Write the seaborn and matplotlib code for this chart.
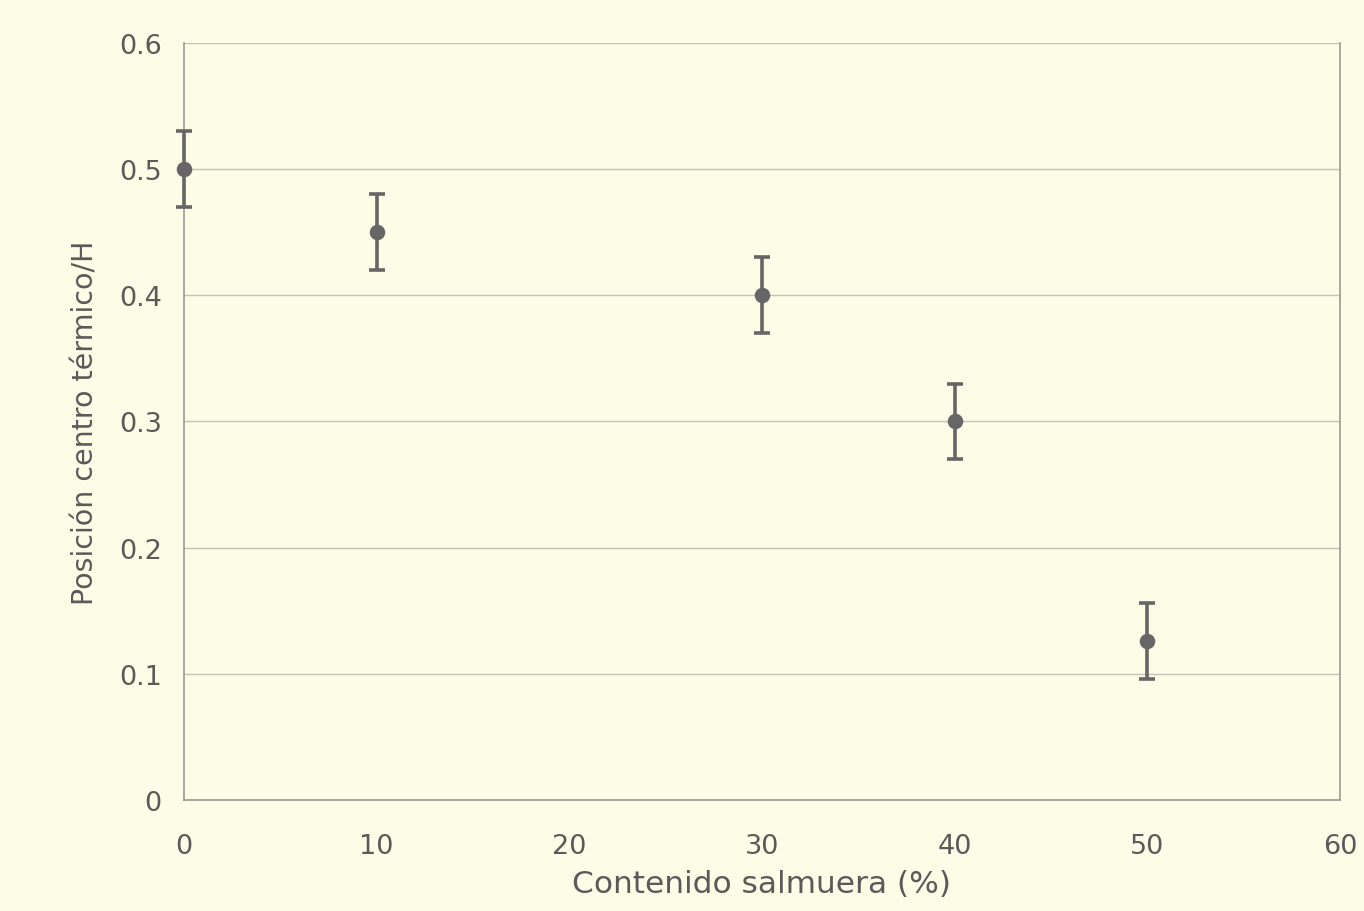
import matplotlib
matplotlib.use("Agg")
import matplotlib.pyplot as plt
import seaborn as sns
import pandas as pd

# Brine content (%) vs relative position of the thermal centre
brine_pct = [0, 10, 30, 40, 50]
thermal_center = [0.50, 0.45, 0.40, 0.30, 0.126]
error = [0.03, 0.03, 0.03, 0.03, 0.03]

x_ticks = [0, 10, 20, 30, 40, 50, 60]
y_ticks = [0, 0.1, 0.2, 0.3, 0.4, 0.5, 0.6]
y_tick_labels = ["0", "0.1", "0.2", "0.3", "0.4", "0.5", "0.6"]

df = pd.DataFrame({"brine": brine_pct, "pos": thermal_center, "err": error})

sns.set_style("white")
plt.rcParams["font.family"] = ["DejaVu Sans"]

bg = "#fdfce6"
ink = "#5a5a5a"
mark = "#666666"
frame = "#9a9a92"

fig = plt.figure(figsize=(13.64, 9.12), dpi=100, facecolor=bg)
ax = fig.add_axes([0.1349, 0.1217, 0.8475, 0.8301])
ax.set_facecolor(bg)

eb = ax.errorbar(df["brine"], df["pos"], yerr=df["err"], fmt="none",
                 ecolor=mark, elinewidth=2.6, capsize=6, capthick=2.6, zorder=3)
for artist in eb.lines[1] + eb.lines[2]:
    artist.set_clip_on(False)
sns.scatterplot(data=df, x="brine", y="pos", ax=ax, color=mark, s=125,
                edgecolor=mark, linewidth=0, zorder=4, legend=False, clip_on=False)

ax.set_xlim(0, 60)
ax.set_ylim(0, 0.6)
ax.set_xticks(x_ticks)
ax.set_yticks(y_ticks)
ax.set_yticklabels(y_tick_labels)
ax.grid(axis="y", color="#c2c2b6", linewidth=1.0)
ax.grid(axis="x", visible=False)

for side in ["left", "bottom", "right"]:
    ax.spines[side].set_visible(True)
    ax.spines[side].set_color(frame)
    ax.spines[side].set_linewidth(1.2)
ax.spines["top"].set_visible(False)

ax.tick_params(axis="both", direction="out", length=6, width=1.1,
               color=frame, labelsize=19.5, labelcolor=ink)
ax.tick_params(axis="x", pad=18)
ax.tick_params(axis="y", pad=10)

ax.set_xlabel("Contenido salmuera (%)", fontsize=22.5, color=ink, labelpad=7)
ax.set_ylabel("Posición centro térmico/H", fontsize=20.5, color=ink, labelpad=14)

fig.savefig("out.png", dpi=100, facecolor=bg)
